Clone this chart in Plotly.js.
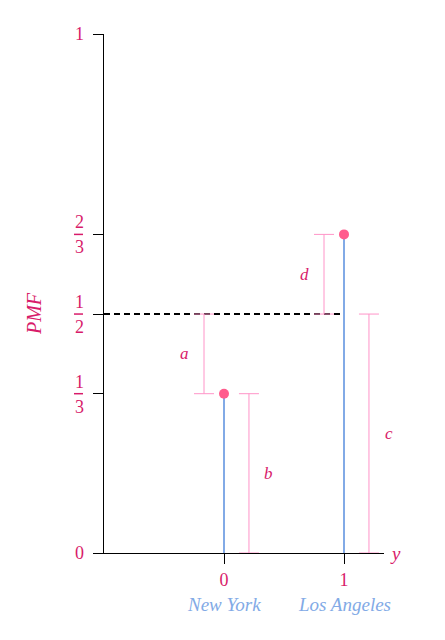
<!DOCTYPE html>
<html>
<head>
<meta charset="utf-8">
<script src="https://cdn.plot.ly/plotly-3.0.1.min.js"></script>
<style>html,body{margin:0;padding:0;background:#fff;}#chart{width:445px;height:640px;}</style>
</head>
<body>
<div id="chart"></div>
<script>
// Data
const outcomes = [0, 1];
const cities = ["New York", "Los Angeles"];
const pmf = [1/3, 2/3];
const refLevel = 1/2;
// brackets: label, lower, upper, anchor outcome index, side
const bracketLabels = ["a", "b", "c", "d"];
const bracketLow = [1/3, 0, 0, 1/2];
const bracketHigh = [1/2, 1/3, 1/2, 2/3];
const bracketOutcome = [0, 0, 1, 1];
const bracketSide = [-1, 1, 1, -1];
const yTickVals = [0, 1/3, 1/2, 2/3];
const yTickNum = ["0", "1", "1", "2"];
const yTickDen = ["", "3", "2", "3"];
const yTopTick = 1.086;
const yTopLabel = "1";

const CRIMSON = "#d81b6a";
const PINK = "#ff94c8";
const BLUE = "#82aae6";
const SERIF = "Liberation Serif, DejaVu Serif, serif";

const traces = [];
// stems
const sx = [], sy = [];
outcomes.forEach((o, i) => { sx.push(o, o, null); sy.push(0, pmf[i], null); });
traces.push({x: sx, y: sy, mode: "lines", line: {color: BLUE, width: 2}, hoverinfo: "skip"});
// dashed reference
traces.push({x: [-1, outcomes[1]], y: [refLevel, refLevel], mode: "lines",
  line: {color: "black", width: 2, dash: "6px,4px"}, hoverinfo: "skip"});
// brackets
const bx = [], by = [], be = [];
bracketLabels.forEach((l, i) => {
  const off = bracketSide[i] < 0 ? -1/6 : 0.208;
  bx.push(outcomes[bracketOutcome[i]] + off);
  by.push((bracketLow[i] + bracketHigh[i]) / 2);
  be.push((bracketHigh[i] - bracketLow[i]) / 2);
});
traces.push({x: bx, y: by, mode: "markers", marker: {opacity: 0, size: 1},
  error_y: {type: "data", array: be, visible: true, color: PINK, thickness: 1, width: 10},
  hoverinfo: "skip"});
// markers
traces.push({x: outcomes, y: pmf, mode: "markers", marker: {color: "#ff5c8d", size: 10}, hoverinfo: "skip"});

const annotations = [];
const shapes = [];
// bracket labels
bracketLabels.forEach((l, i) => {
  annotations.push({x: bx[i], y: by[i], xref: "x", yref: "y", text: l, showarrow: false,
    xanchor: "center", yanchor: "middle",
    xshift: bracketSide[i] < 0 ? -20 : 20, font: {family: SERIF, size: 17, color: CRIMSON, style: "italic"}});
});
// y tick labels (fractions)
const lab = (y, text, yshift) => ({x: 0, xref: "paper", y: y, yref: "y", text: text, showarrow: false,
  xanchor: "center", yanchor: "middle", xshift: -25, yshift: yshift, font: {family: SERIF, size: 18, color: CRIMSON}});
yTickVals.forEach((v, i) => {
  if (yTickDen[i] === "") {
    annotations.push(lab(v, yTickNum[i], 0));
  } else {
    annotations.push(lab(v, yTickNum[i], 12));
    annotations.push(lab(v, yTickDen[i], -13));
    shapes.push({type: "line", xref: "paper", xsizemode: "pixel", xanchor: 0, x0: -30, x1: -21,
      yref: "y", y0: v, y1: v, line: {color: CRIMSON, width: 1.5}});
  }
});
annotations.push(lab(yTopTick, yTopLabel, 0));
// city labels
outcomes.forEach((o, i) => {
  annotations.push({x: o, xref: "x", y: 0, yref: "y", text: cities[i], showarrow: false,
    xanchor: "center", yanchor: "middle",
    yshift: -51, font: {family: SERIF, size: 19, color: BLUE, style: "italic"}});
});
// axis labels
annotations.push({x: 1, xref: "paper", y: 0, yref: "y", text: "y", showarrow: false, xanchor: "left",
  yanchor: "middle", xshift: 4, font: {family: SERIF, size: 19, color: CRIMSON, style: "italic"}});
annotations.push({x: 0, xref: "paper", y: 0.5, yref: "y", text: "PMF", showarrow: false, xshift: -70,
  xanchor: "center", yanchor: "middle",
  textangle: -90, font: {family: SERIF, size: 20, color: CRIMSON, style: "italic"}});

const layout = {
  width: 445, height: 640,
  margin: {l: 104, r: 61, t: 34, b: 87},
  paper_bgcolor: "white", plot_bgcolor: "white",
  showlegend: false,
  xaxis: {range: [-1, 4/3], tickvals: outcomes, ticktext: outcomes.map(String),
    showgrid: false, zeroline: false, showline: true, linecolor: "black", linewidth: 1,
    ticks: "outside", ticklen: 10, tickcolor: "black", tickwidth: 1,
    tickfont: {family: SERIF, size: 18, color: CRIMSON}, fixedrange: true},
  yaxis: {range: [0, yTopTick], tickvals: yTickVals.concat([yTopTick]), showticklabels: false,
    showgrid: false, zeroline: false, showline: true, linecolor: "black", linewidth: 1,
    ticks: "outside", ticklen: 10, tickcolor: "black", tickwidth: 1, fixedrange: true},
  annotations: annotations,
  shapes: shapes
};
Plotly.newPlot("chart", traces, layout, {displayModeBar: false, staticPlot: true});
</script>
</body>
</html>
